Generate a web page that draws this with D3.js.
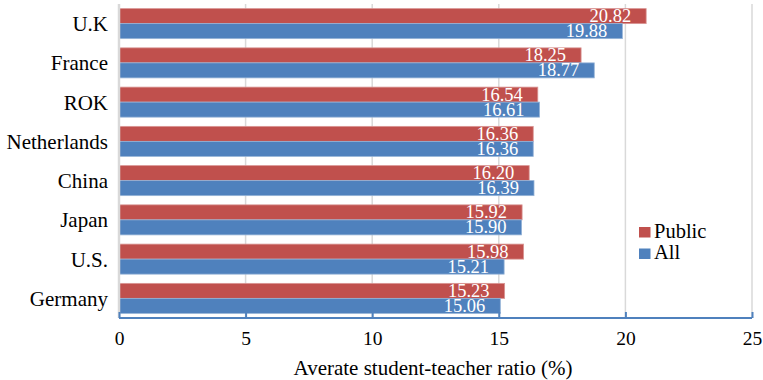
<!DOCTYPE html>
<html>
<head>
<meta charset="utf-8">
<script src="https://cdn.jsdelivr.net/npm/d3@7"></script>
<style>
  html, body { margin: 0; padding: 0; background: #fff; }
</style>
</head>
<body>
<svg id="chart" width="763" height="380"></svg>
<script>
// Countries, top to bottom
const countries = ["U.K", "France", "ROK", "Netherlands", "China", "Japan", "U.S.", "Germany"];
// Average student-teacher ratio, public schools
const publicValues = [20.82, 18.25, 16.54, 16.36, 16.20, 15.92, 15.98, 15.23];
// Average student-teacher ratio, all schools
const allValues = [19.88, 18.77, 16.61, 16.36, 16.39, 15.90, 15.21, 15.06];
const seriesNames = ["Public", "All"];
const seriesColors = ["#C0504D", "#4F81BD"];
const xTicks = [0, 5, 10, 15, 20, 25];
const xTitle = "Averate student-teacher ratio (%)";

const FONT = "'Liberation Serif', 'Times New Roman', Times, serif";

const svg = d3.select("#chart");
const plot = { left: 119, right: 752, top: 4, bottom: 318 };

const x = d3.scaleLinear().domain([0, 25]).range([plot.left, plot.right]);
const y = d3.scaleBand().domain(countries).range([plot.top, plot.bottom]).paddingInner(0.235).paddingOuter(0.1175);
const ySeries = d3.scaleBand().domain(seriesNames).range([0, y.bandwidth()]);

const rows = countries.map((c, i) => ({ country: c, values: [publicValues[i], allValues[i]] }));

// vertical gridlines
svg.append("g")
  .selectAll("line")
  .data(xTicks.slice(1))
  .join("line")
  .attr("x1", d => x(d)).attr("x2", d => x(d))
  .attr("y1", plot.top).attr("y2", plot.bottom)
  .attr("stroke", "#D9D9D9").attr("stroke-width", 1.5);

// bars
const groups = svg.append("g")
  .selectAll("g")
  .data(rows)
  .join("g")
  .attr("transform", d => `translate(0,${y(d.country)})`);

const cells = groups.selectAll("g")
  .data(d => d.values.map((v, k) => ({ v, k })))
  .join("g");

cells.append("rect")
  .attr("x", x(0))
  .attr("y", d => ySeries(seriesNames[d.k]))
  .attr("width", d => x(d.v) - x(0))
  .attr("height", ySeries.bandwidth())
  .attr("fill", d => seriesColors[d.k])
  .attr("stroke", d => d.k === 0 ? "#D99694" : "#95B3D7")
  .attr("stroke-width", 0.8);

// value labels, inside the bar end
cells.append("text")
  .attr("x", d => x(d.v) - 15)
  .attr("y", d => ySeries(seriesNames[d.k]) + ySeries.bandwidth() / 2 + 6)
  .attr("text-anchor", "end")
  .style("font-family", FONT)
  .style("font-size", "18.5px")
  .attr("fill", "#fff")
  .text(d => d.v.toFixed(2));

// left axis line
svg.append("line")
  .attr("x1", x(0)).attr("x2", x(0))
  .attr("y1", plot.top).attr("y2", plot.bottom)
  .attr("stroke", "#D9D9D9").attr("stroke-width", 2.5);

// category labels
svg.append("g")
  .selectAll("text")
  .data(countries)
  .join("text")
  .attr("x", 108)
  .attr("y", d => y(d) + y.bandwidth() / 2 + 7.5)
  .attr("text-anchor", "end")
  .style("font-family", FONT)
  .style("font-size", "21px")
  .attr("fill", "#000")
  .text(d => d);

// bottom axis
const xAxis = d3.axisBottom(x).tickValues(xTicks).tickSize(-6).tickPadding(0).tickFormat(d3.format("d"));
const axisG = svg.append("g").attr("transform", `translate(0,${plot.bottom})`).call(xAxis);
axisG.select(".domain").attr("stroke", "#4F81BD").attr("stroke-width", 2).attr("d", `M${plot.left},0H${plot.right}`);
axisG.selectAll(".tick line").attr("stroke", "#4F81BD").attr("stroke-width", 2);
axisG.selectAll(".tick text")
  .style("font-family", FONT)
  .style("font-size", "19.5px")
  .attr("fill", "#000")
  .attr("dy", null)
  .attr("y", 27);

// axis title
svg.append("text")
  .attr("x", 433)
  .attr("y", 375)
  .attr("text-anchor", "middle")
  .style("font-family", FONT)
  .style("font-size", "21px")
  .attr("fill", "#000")
  .text(xTitle);

// legend
const legend = svg.append("g").attr("transform", "translate(639,227)");
const li = legend.selectAll("g").data(seriesNames).join("g")
  .attr("transform", (d, i) => `translate(0,${i * 21.5})`);
li.append("rect").attr("width", 11.5).attr("height", 10.5).attr("fill", (d, i) => seriesColors[i]);
li.append("text").attr("x", 15).attr("y", 10.5)
  .style("font-family", FONT)
  .style("font-size", "20.5px")
  .attr("fill", "#000").text(d => d);
</script>
</body>
</html>
